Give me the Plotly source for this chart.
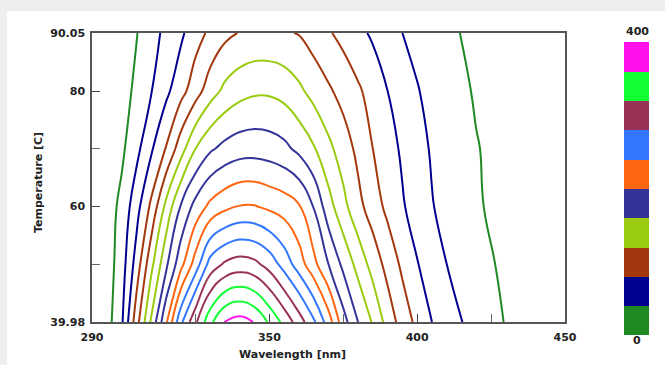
import plotly.graph_objects as go

# Wavelength grid [nm] and temperature rows [C]
wavelength = [290, 295, 300, 305, 310, 315, 320, 325, 330, 335, 340, 345, 350, 355, 360,
              365, 370, 375, 380, 385, 390, 395, 400, 405, 410, 420, 430, 440, 450]
temperature = [39.98, 50, 60, 70, 80, 90.05]

# Intensity, one list per temperature row
z_t40 = [3, 12, 36, 91, 143, 196, 255, 296, 335, 361, 368, 359, 337, 314, 290,
         264, 230, 188, 160, 138, 112, 91, 75, 60, 49, 32, 19, 12, 7]
z_t50 = [3, 10, 30, 68, 114, 155, 193, 229, 268, 283, 289, 285, 272, 252, 230,
         206, 180, 155, 133, 112, 93, 76, 61, 50, 40, 27, 16, 10, 6]
z_t60 = [3, 10, 25, 52, 84, 125, 161, 187, 205, 215, 221, 221, 216, 211, 202,
         179, 148, 126, 106, 90, 75, 62, 51, 41, 34, 22, 14, 9, 5]
z_t70 = [2, 8, 16, 34, 57, 81, 111, 140, 157, 166, 171, 172, 170, 165, 155,
         142, 125, 110, 95, 80, 68, 57, 47, 38, 32, 21, 13, 8, 5]
z_t80 = [2, 6, 12, 24, 39, 55, 73, 91, 111, 125, 133, 137, 137, 133, 124,
         113, 103, 93, 83, 72, 60, 51, 41, 35, 29, 18, 12, 7, 4]
z_t90 = [2, 5, 10, 19, 32, 45, 56, 72, 84, 95, 101, 104, 104, 102, 99,
         91, 82, 74, 65, 57, 48, 40, 35, 29, 24, 15, 10, 6, 4]

x_tickvals = [290, 350, 400, 450]
y_tickvals = [39.98, 60, 80, 90.05]
y_ticktext = ["39.98", "60", "80", "90.05"]

band_colors = ["#1f8a24", "#000090", "#a3380f", "#99cc11", "#333399",
               "#ff6611", "#3377ff", "#993355", "#11ff33", "#ff11ee"]

# discrete colour scale: 10 bands over 0..400
cs = []
n = len(band_colors)
for i, c in enumerate(band_colors):
    lo = 0.0 if i == 0 else i / n - 0.002
    hi = 1.0 if i == n - 1 else (i + 1) / n - 0.002
    cs.append([lo, c])
    cs.append([hi, c])

W, H = 665, 365
L, R, T, B = 92, 100, 33, 43
pw, ph = W - L - R, H - T - B


def px(xp):
    return (xp - L) / pw


def py(yp):
    return (H - B - yp) / ph


fig = go.Figure()
fig.add_trace(go.Contour(
    x=wavelength, y=temperature,
    z=[z_t40, z_t50, z_t60, z_t70, z_t80, z_t90],
    zmin=0, zmax=400, colorscale=cs, showscale=False,
    contours=dict(coloring="lines", start=0, end=400, size=20),
    line=dict(width=2, smoothing=1.3),
    hoverinfo="skip",
))

fig.add_trace(go.Scatter(
    x=[300], y=[60], mode="markers", hoverinfo="skip", showlegend=False,
    marker=dict(color=[0], cmin=0, cmax=400, colorscale=cs, opacity=0, size=1,
                showscale=True,
                colorbar=dict(thickness=25, len=293, lenmode="pixels",
                              x=px(624), xanchor="left", y=py(42), yanchor="top",
                              xpad=0, ypad=0, outlinewidth=0,
                              showticklabels=False, ticks="")),
))

tickfont = dict(family="Verdana, DejaVu Sans", size=11, color="#222", weight="bold")
titlefont = dict(family="Verdana, DejaVu Sans", size=11, color="#222", weight="bold")

fig.update_layout(
    width=W, height=H,
    margin=dict(l=L, r=R, t=T, b=B),
    paper_bgcolor="white", plot_bgcolor="white",
    showlegend=False,
    xaxis=dict(range=[290, 450], tickvals=x_tickvals, ticks="inside", ticklen=8,
               tickcolor="#444", showgrid=False, zeroline=False,
               showline=True, linecolor="#555", linewidth=1.5, mirror=True,
               tickfont=tickfont, ticklabelstandoff=4,
               minor=dict(tickvals=[325, 375, 425], ticks="inside", ticklen=8, tickcolor="#666")),
    yaxis=dict(range=[39.98, 90.05], tickvals=y_tickvals, ticktext=y_ticktext,
               ticks="inside", ticklen=8, tickcolor="#444", showgrid=False, zeroline=False,
               showline=True, linecolor="#555", linewidth=1.5, mirror=True,
               tickfont=tickfont, ticklabelstandoff=3,
               minor=dict(tickvals=[50, 70], ticks="inside", ticklen=8, tickcolor="#666")),
    shapes=[
        dict(type="rect", xref="paper", yref="paper", x0=px(0), x1=px(W), y0=py(11), y1=py(0),
             fillcolor="#eeeeee", line=dict(width=0), layer="below"),
        dict(type="rect", xref="paper", yref="paper", x0=px(0), x1=px(7), y0=py(H), y1=py(11),
             fillcolor="#eeeeee", line=dict(width=0), layer="below"),
    ],
    annotations=[
        dict(text="Temperature [C]", x=px(38), y=py(183), xref="paper", yref="paper",
             xanchor="center", yanchor="middle", textangle=-90, showarrow=False, font=titlefont),
        dict(text="Wavelength [nm]", x=px(292), y=py(354), xref="paper", yref="paper",
             xanchor="center", yanchor="middle", showarrow=False, font=titlefont),
        dict(text="400", x=px(637), y=py(32), xref="paper", yref="paper",
             xanchor="center", yanchor="middle", showarrow=False, font=tickfont),
        dict(text="0", x=px(637), y=py(341), xref="paper", yref="paper",
             xanchor="center", yanchor="middle", showarrow=False, font=tickfont),
    ],
)

fig.write_html("out.html")
